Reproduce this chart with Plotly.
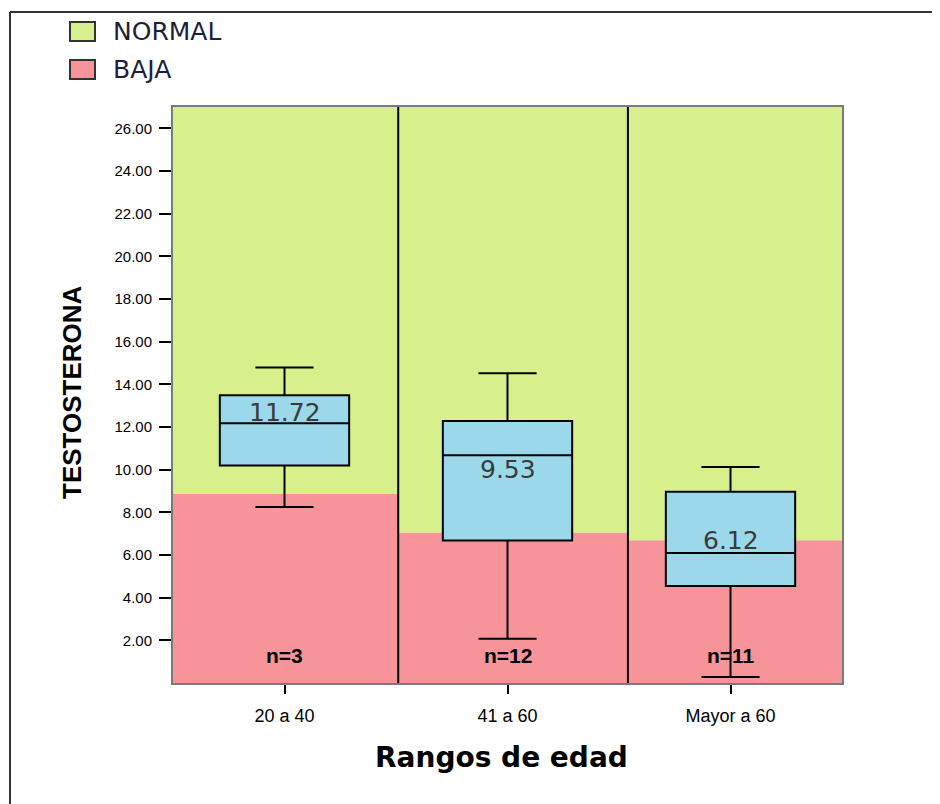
import plotly.graph_objects as go

# ---- data ----
categories = ["20 a 40", "41 a 60", "Mayor a 60"]
q1 = [10.20, 6.68, 4.55]
median = [12.17, 10.67, 6.09]
q3 = [13.49, 12.28, 8.96]
lower_whisker = [8.25, 2.08, 0.28]
upper_whisker = [14.79, 14.52, 10.12]
baja_threshold = [8.86, 7.05, 6.69]
mean_labels = ["11.72", "9.53", "6.12"]
n_labels = ["n=3", "n=12", "n=11"]
y_ticks = [2, 4, 6, 8, 10, 12, 14, 16, 18, 20, 22, 24, 26]
y_max = 27

# ---- style / layout constants (page pixel coordinates) ----
OFF = 8  # default page body margin
W, H = 940, 804
L, R, T, B = 173, 842, 107, 683
GREEN = "#d8f08b"
PINK = "#f7949a"
BLUE = "#9bd9ea"
edges = [-0.5, 0.51, 1.54, 2.5]
mean_label_y = [12.7, 10.0, 6.7]
n_label_y = 1.31


def px(x):
    return (x - L) / (R - L)


def py(y):
    return (B - y) / (B - T)


fig = go.Figure()

fig.add_trace(go.Box(
    x=categories,
    q1=q1, median=median, q3=q3,
    lowerfence=lower_whisker, upperfence=upper_whisker,
    width=0.58, whiskerwidth=0.45,
    fillcolor=BLUE,
    line=dict(color="black", width=2),
    boxpoints=False,
    showlegend=False,
    hoverinfo="skip",
))

shapes = []
for i, thr in enumerate(baja_threshold):
    shapes.append(dict(type="rect", xref="x", yref="y", x0=edges[i], x1=edges[i + 1],
                       y0=0, y1=thr, fillcolor=PINK, line=dict(width=0), layer="below"))
    shapes.append(dict(type="rect", xref="x", yref="y", x0=edges[i], x1=edges[i + 1],
                       y0=thr, y1=y_max, fillcolor=GREEN, line=dict(width=0), layer="below"))
for e in edges[1:-1]:
    shapes.append(dict(type="line", xref="x", yref="y", x0=e, x1=e, y0=0, y1=y_max,
                       line=dict(color="black", width=2)))

# outer frame (left and top)
shapes.append(dict(type="line", xref="paper", yref="paper", x0=px(10), x1=px(10),
                   y0=py(12), y1=py(820), line=dict(color="#333333", width=2)))
shapes.append(dict(type="line", xref="paper", yref="paper", x0=px(10), x1=px(960),
                   y0=py(12), y1=py(12), line=dict(color="#333333", width=2)))

# legend squares
for (y0, y1, col) in [(22, 41, GREEN), (60, 79, PINK)]:
    shapes.append(dict(type="rect", xref="paper", yref="paper", x0=px(70), x1=px(95),
                       y0=py(y1), y1=py(y0), fillcolor=col,
                       line=dict(color="#333333", width=2)))

annotations = []
for txt, yc in [("NORMAL", 31), ("BAJA", 70)]:
    annotations.append(dict(xref="paper", yref="paper", x=px(111), y=py(yc), text=txt,
                            showarrow=False, xanchor="left", yanchor="middle",
                            font=dict(family="DejaVu Sans", size=25, color="#1e1e3a")))

for i, cat in enumerate(categories):
    annotations.append(dict(xref="x", yref="y", x=cat, y=mean_label_y[i], text=mean_labels[i],
                            showarrow=False, xanchor="center", yanchor="middle",
                            font=dict(family="DejaVu Sans", size=25, color="#3a3a3a")))
    annotations.append(dict(xref="x", yref="y", x=cat, y=n_label_y, text="<b>" + n_labels[i] + "</b>",
                            showarrow=False, xanchor="center", yanchor="middle",
                            font=dict(family="Liberation Sans", size=21, color="black")))

# axis titles
annotations.append(dict(xref="paper", yref="paper", x=px(72), y=py(392), text="<b>TESTOSTERONA</b>",
                        textangle=-90, showarrow=False, xanchor="center", yanchor="middle",
                        font=dict(family="Liberation Sans", size=26, color="black")))
annotations.append(dict(xref="paper", yref="paper", x=px(501), y=py(757), text="<b>Rangos de edad</b>",
                        showarrow=False, xanchor="center", yanchor="middle",
                        font=dict(family="DejaVu Sans", size=28, color="black")))

fig.update_layout(
    width=W, height=H,
    margin=dict(l=L - OFF, r=W - R + OFF, t=T - OFF, b=H - B + OFF, pad=0),
    paper_bgcolor="white", plot_bgcolor="white",
    shapes=shapes, annotations=annotations,
    showlegend=False,
    xaxis=dict(
        type="category", range=[-0.5, 2.5],
        showline=True, linecolor="#7a7a7a", linewidth=2, mirror=True,
        ticks="outside", ticklen=9, tickwidth=2, tickcolor="black",
        showgrid=False, zeroline=False, ticklabelstandoff=6,
        tickfont=dict(family="Liberation Sans", size=18, color="black"),
    ),
    yaxis=dict(
        range=[0, y_max], tickvals=y_ticks,
        ticktext=["%.2f" % v for v in y_ticks],
        showline=True, linecolor="#7a7a7a", linewidth=2, mirror=True,
        ticks="outside", ticklen=12, tickwidth=2, tickcolor="black",
        showgrid=False, zeroline=False, ticklabelstandoff=4,
        tickfont=dict(family="Liberation Sans", size=15, color="black"),
    ),
)

fig.write_html("out.html")
